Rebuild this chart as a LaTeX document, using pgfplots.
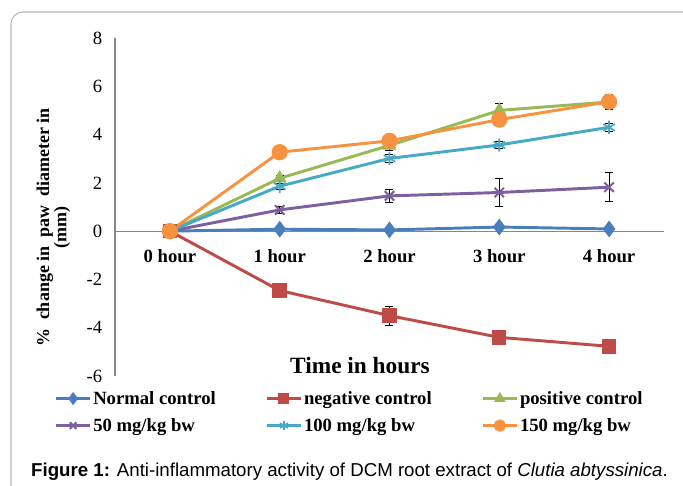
\documentclass[border=0pt]{standalone}
\usepackage{pgfplots}
\pgfplotsset{compat=1.18}
\usepackage{fontspec}
\setmainfont{Liberation Serif}
\newfontfamily\capfont{Liberation Sans}
\definecolor{cblue}{HTML}{4A7EBB}
\definecolor{cred}{HTML}{BE4B48}
\definecolor{cgreen}{HTML}{98B954}
\definecolor{cpurple}{HTML}{7D60A0}
\definecolor{cteal}{HTML}{46AAC5}
\definecolor{corange}{HTML}{F69240}
\definecolor{axgray}{HTML}{868686}
\begin{document}
\begin{tikzpicture}[x=0.75pt,y=0.75pt]
\path[use as bounding box] (0,0) rectangle (683,486);
\begin{scope}
\clip (0,0) rectangle (683,486);
\draw[black!28, line width=0.8pt, rounded corners=9pt] (11,474) rectangle (730,-40);
\end{scope}
\begin{axis}[
  at={(86.25pt,82.5pt)}, anchor=south west,
  scale only axis, width=411.75pt, height=253.5pt,
  xmin=-0.5, xmax=4.5, ymin=-6, ymax=8,
  axis x line=middle, axis y line=left,
  hide obscured x ticks=false, hide obscured y ticks=false,
  axis line style={draw=axgray, line width=0.8pt, -},
  x axis line style={-}, y axis line style={-},
  major tick length=0pt,
  xtick={0,1,2,3,4},
  xticklabels={0 hour,1 hour,2 hour,3 hour,4 hour},
  xticklabel style={font=\fontsize{14}{16}\selectfont\bfseries, yshift=-10pt},
  ytick={-6,-4,-2,0,2,4,6,8},
  yticklabels={-6,-4,-2,0,2,4,6,8},
  yticklabel style={font=\fontsize{14}{16}\selectfont, xshift=-6pt},
  clip=false,
  every axis plot/.append style={line width=2.2pt},
  error bars/y dir=both, error bars/y explicit,
  error bars/error bar style={black, line width=0.6pt, solid},
  error bars/error mark options={rotate=90, black, mark size=3pt, line width=0.6pt},
  legend columns=3,
  legend style={at={(-0.111,-0.04)}, anchor=north west, draw=none, fill=none,
    inner sep=0pt, font=\fontsize{14}{16}\selectfont\bfseries,
    nodes={inner ysep=1pt, inner xsep=1pt}, row sep=7pt,
    /tikz/every even column/.append style={column sep=36pt}},
  legend cell align=left,
  legend image code/.code={\draw[mark repeat=2,mark phase=2,#1,every mark/.append style={scale=0.7}] plot coordinates {(0pt,0pt) (13pt,0pt) (26pt,0pt)};},
]
\addplot[color=cblue, mark=diamond*, mark size=4.5pt, mark options={solid, fill=cblue}]
 table[x=x, y=y, y error=e] {
x y e
0 0 0
1 0.08 0.05
2 0.05 0.04
3 0.17 0.06
4 0.09 0.05
};
\addlegendentry{Normal control}
\addplot[color=cred, mark=square*, mark size=4.3pt, mark options={solid, fill=cred}]
 table[x=x, y=y, y error=e] {
x y e
0 0 0
1 -2.46 0.1
2 -3.5 0.4
3 -4.4 0.2
4 -4.77 0.22
};
\addlegendentry{negative control}
\addplot[color=cgreen, mark=triangle*, mark size=4pt, mark options={solid, fill=cgreen}]
 table[x=x, y=y, y error=e] {
x y e
0 0 0
1 2.19 0.1
2 3.55 0.2
3 5.0 0.3
4 5.35 0.2
};
\addlegendentry{positive control}
\addplot[color=cpurple, mark=x, mark size=5pt, mark options={solid, line width=1.5pt}]
 table[x=x, y=y, y error=e] {
x y e
0 0 0
1 0.88 0.15
2 1.46 0.27
3 1.6 0.57
4 1.82 0.6
};
\addlegendentry{50 mg/kg bw}
\addplot[color=cteal, mark=asterisk, mark size=5pt, mark options={solid, line width=1.3pt}]
 table[x=x, y=y, y error=e] {
x y e
0 0 0
1 1.86 0.12
2 3.01 0.15
3 3.57 0.15
4 4.3 0.15
};
\addlegendentry{100 mg/kg bw}
\addplot[color=corange, mark=*, mark size=5pt, mark options={solid, fill=corange}]
 table[x=x, y=y, y error=e] {
x y e
0 0 0
1 3.27 0.08
2 3.74 0.25
3 4.62 0.1
4 5.36 0.32
};
\addlegendentry{150 mg/kg bw}
\end{axis}
\node[rotate=90, align=center, font=\fontsize{13.5}{13}\selectfont\bfseries] at (53.5,258.5) {\%\ \ change in\ \ paw\ \ diameter in\\(mm)};
\node[font=\fontsize{17.5}{20}\selectfont\bfseries] at (360,120) {Time in hours};
\node[font=\capfont\fontsize{14}{16}\selectfont] at (349.5,14) {\textbf{Figure 1:} Anti-inflammatory activity of DCM root extract of \textit{Clutia abtyssinica}.};
\end{tikzpicture}
\end{document}
